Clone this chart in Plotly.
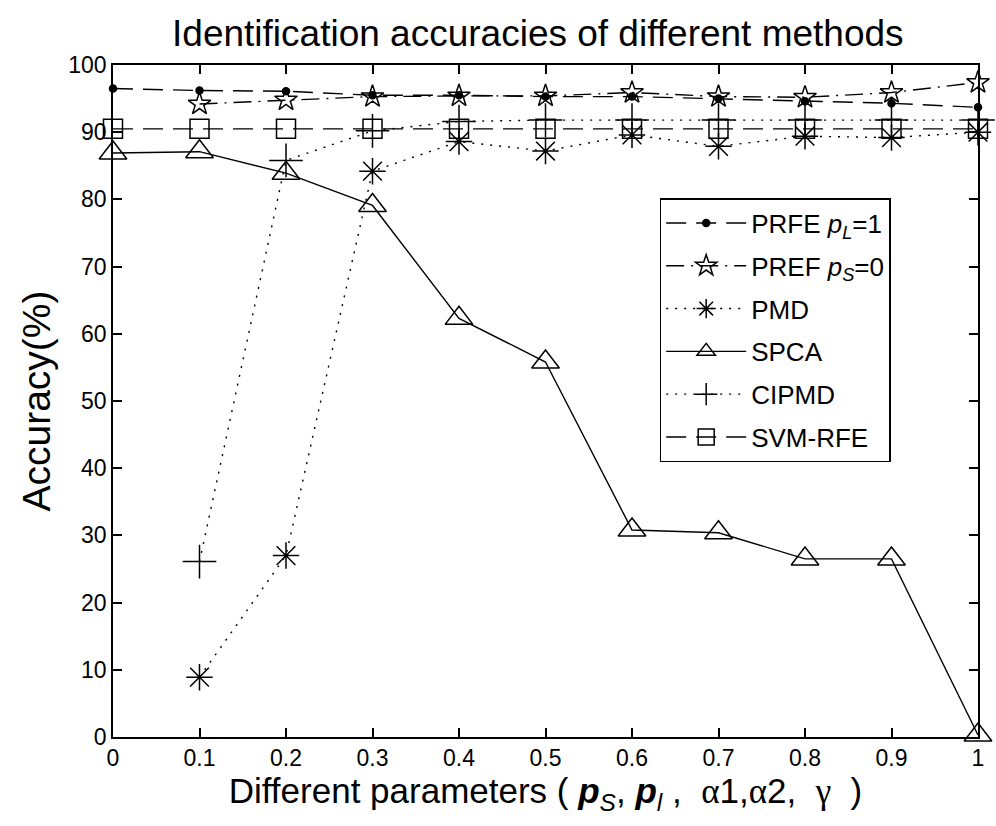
import plotly.graph_objects as go

x_all = [0, 0.1, 0.2, 0.3, 0.4, 0.5, 0.6, 0.7, 0.8, 0.9, 1.0]
x_from01 = [0.1, 0.2, 0.3, 0.4, 0.5, 0.6, 0.7, 0.8, 0.9, 1.0]

prfe = [96.5, 96.2, 96.1, 95.5, 95.5, 95.3, 95.3, 95.0, 94.6, 94.3, 93.7]
pref = [94.2, 94.8, 95.3, 95.4, 95.4, 95.9, 95.3, 95.2, 95.9, 97.4]
pmd = [8.9, 27.0, 84.2, 88.6, 87.2, 89.6, 87.9, 89.4, 89.2, 90.0]
spca = [86.9, 87.1, 83.9, 79.1, 62.3, 55.8, 30.8, 30.4, 26.5, 26.5, 0.3]
cipmd = [26.1, 85.8, 90.2, 91.6, 91.8, 91.8, 91.8, 91.8, 91.8, 91.8]
svmrfe = [90.5, 90.5, 90.5, 90.5, 90.5, 90.5, 90.5, 90.5, 90.5, 90.5, 90.5]

x_ticks = [0, 0.1, 0.2, 0.3, 0.4, 0.5, 0.6, 0.7, 0.8, 0.9, 1]
x_ticktext = ["0", "0.1", "0.2", "0.3", "0.4", "0.5", "0.6", "0.7", "0.8", "0.9", "1"]
y_ticks = [0, 10, 20, 30, 40, 50, 60, 70, 80, 90, 100]

FONT = "Liberation Sans, Arial, Helvetica, sans-serif"
SERIF = "Liberation Serif, DejaVu Serif, serif"
LW = 1.4

fig = go.Figure()


def add(name, xs, ys, dash, symbol, size, group):
    fig.add_trace(go.Scatter(
        x=xs, y=ys, name=name, mode="lines+markers", legendgroup=group,
        cliponaxis=False,
        line=dict(color="black", width=LW, dash=dash),
        marker=dict(symbol=symbol, size=size, color="black",
                    line=dict(color="black", width=1.5)),
    ))


add("PRFE <i>p</i><sub><i>L</i></sub>=1", x_all, prfe, "20px,10px", "circle", 7, "g1")
add("PREF <i>p</i><sub><i>S</i></sub>=0", x_from01, pref, "18px,7px,2px,7px", "star-open", 17, "g2")
add("PMD", x_from01, pmd, "2px,7px", "asterisk-open", 22, "g3")
add("SPCA", x_all, spca, "solid", "triangle-up-open", 24, "g4")
add("CIPMD", x_from01, cipmd, "2px,7px", "cross-thin-open", 24, "g5")
add("SVM-RFE", x_all, svmrfe, "20px,10px", "square-open", 19, "g6")

sym = lambda s: f"<span style='font-family:{SERIF}'>{s}</span>"
xlabel = ("Different parameters ( <b><i>p</i></b><sub><i>S</i></sub>, "
          "<b><i>p</i></b><sub><i>l</i></sub> ,  " + sym("α") + "1," + sym("α") + "2,  "
          + sym("γ") + "  )")

fig.update_layout(
    width=996, height=826,
    margin=dict(l=113, r=14, t=65, b=89),
    paper_bgcolor="white", plot_bgcolor="white",
    font=dict(family=FONT, color="black", size=23),
    title=dict(text="Identification accuracies of different methods",
               x=0.54, xanchor="center", y=0.96, yanchor="middle",
               font=dict(size=37, family=FONT, color="black")),
    showlegend=True,
    legend=dict(x=0.632, y=0.802, xanchor="left", yanchor="top",
                bordercolor="black", borderwidth=1.5, bgcolor="white",
                font=dict(size=26, family=FONT, color="black"),
                tracegroupgap=6, itemwidth=80),
)

fig.update_xaxes(
    range=[0, 1], tickvals=x_ticks, ticktext=x_ticktext,
    showline=True, linecolor="black", linewidth=1.5, mirror="ticks",
    ticks="inside", ticklen=9, tickwidth=1.5, tickcolor="black",
    showgrid=False, zeroline=False,
    tickfont=dict(size=23, family=FONT),
    title=dict(text=xlabel, font=dict(size=35, family=FONT), standoff=6),
)
fig.update_yaxes(
    range=[0, 100], tickvals=y_ticks,
    showline=True, linecolor="black", linewidth=1.5, mirror="ticks",
    ticks="inside", ticklen=9, tickwidth=1.5, tickcolor="black",
    showgrid=False, zeroline=False,
    tickfont=dict(size=23, family=FONT),
    title=dict(text="Accuracy(%)", font=dict(size=39, family=FONT), standoff=6),
)

fig.write_html("out.html")
